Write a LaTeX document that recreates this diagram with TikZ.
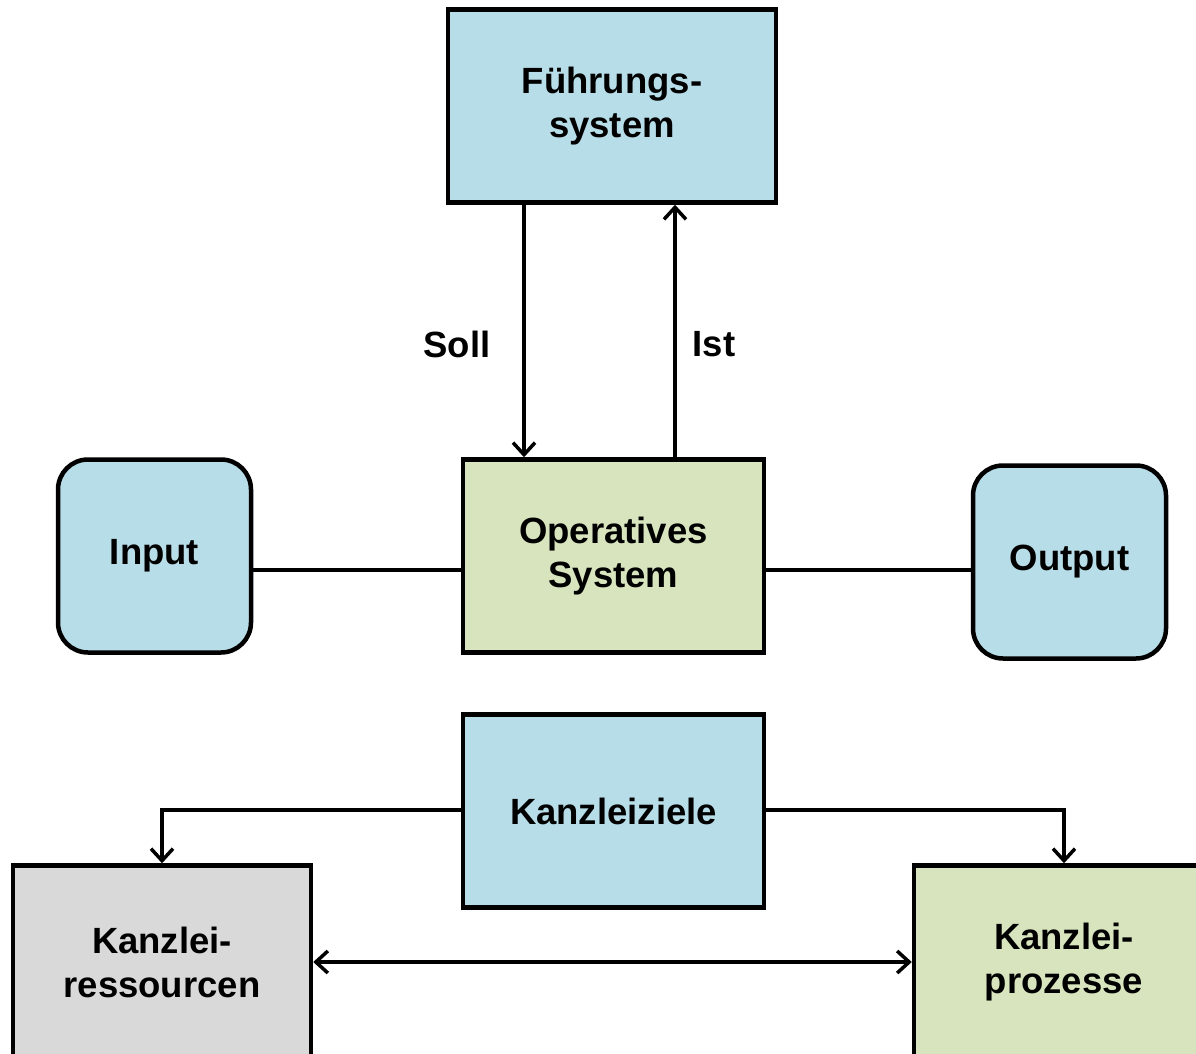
\documentclass[tikz,border=0pt]{standalone}
\usepackage{fontspec}
\setmainfont{Liberation Sans}
\usetikzlibrary{arrows.meta}
\definecolor{lblue}{HTML}{B7DDE8}
\definecolor{lgreen}{HTML}{D7E4BD}
\definecolor{lgray}{HTML}{D9D9D9}
\begin{document}
\begin{tikzpicture}[x=1pt,y=-1pt,
  box/.style={draw=black,line width=4.5pt,inner sep=0pt,align=center,
    font=\fontsize{36.5}{44}\selectfont\bfseries},
  rbox/.style={box,rounded corners=30pt},
  conn/.style={line width=3.5pt},
  tip/.style={-{Straight Barb[length=12pt,width=22pt,line width=3.5pt]}},
  lbl/.style={font=\fontsize{36.5}{44}\selectfont\bfseries}]
\useasboundingbox (0,0) rectangle (1196,1054);
\node[box,fill=lblue,minimum width=328pt,minimum height=193pt] (fs) at (612,106) {Führungs-\\system};
\node[box,fill=lgreen,minimum width=301pt,minimum height=193pt] (os) at (613.5,556) {Operatives\\System};
\node[rbox,fill=lblue,minimum width=193pt,minimum height=193pt] (in) at (154.5,556) {Input};
\node[rbox,fill=lblue,minimum width=193pt,minimum height=193pt] (out) at (1069.5,562) {Output};
\node[box,fill=lblue,minimum width=301pt,minimum height=193pt] (kz) at (613.5,811) {Kanzleiziele};
\node[box,fill=lgray,minimum width=298pt,minimum height=193pt] (kr) at (162,962) {Kanzlei-\\ressourcen};
\node[box,fill=lgreen,minimum width=300pt,minimum height=193pt] (kp) at (1064,962) {Kanzlei-\\prozesse};
\coordinate (sollTop) at (524,202);
\coordinate (istTop) at (675,202);
\draw[conn,tip] (fs.south -| sollTop) -- (os.north -| sollTop);
\draw[conn,tip] (os.north -| istTop) -- (fs.south -| istTop);
\node[lbl] (soll) at (457,344) {Soll};
\node[lbl] (ist) at (714,344) {Ist};
\draw[conn] (in.east |- 0,570) -- (os.west |- 0,570);
\draw[conn] (os.east |- 0,570) -- (out.west |- 0,570);
\draw[conn,tip] (kz.west |- 0,810) -| (kr.north);
\draw[conn,tip] (kz.east |- 0,810) -| (kp.north);
\draw[conn,{Straight Barb[length=12pt,width=22pt,line width=3.5pt]}-{Straight Barb[length=12pt,width=22pt,line width=3.5pt]}] (kr.east |- 0,962) -- (kp.west |- 0,962);
\end{tikzpicture}
\end{document}
